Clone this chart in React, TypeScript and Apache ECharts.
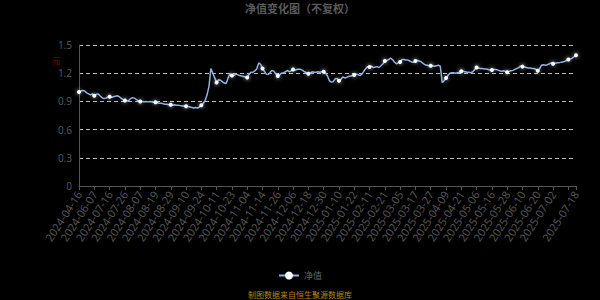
import React, { useEffect, useRef } from "react";
import * as echarts from "echarts";

const titleText = "净值变化图（不复权）";
const seriesName = "净值";
const unitText = "元";
const sourceText = "制图数据来自恒生聚源数据库";

// early sparse dates, then daily trading days per month
const earlyDates = [
  "2024-04-16", "2024-04-19", "2024-04-26", "2024-04-30", "2024-05-10", "2024-05-17",
  "2024-05-24", "2024-05-31", "2024-06-07", "2024-06-14", "2024-06-21", "2024-06-28",
  "2024-07-05", "2024-07-11", "2024-07-12", "2024-07-15", "2024-07-16",
];
const monthDays: [string, number[]][] = [
  ["2024-07", [17, 18, 19, 22, 23, 24, 25, 26, 29, 30, 31]],
  ["2024-08", [1, 2, 5, 6, 7, 8, 9, 12, 13, 14, 15, 16, 19, 20, 21, 22, 23, 26, 27, 28, 29, 30]],
  ["2024-09", [2, 3, 4, 5, 6, 9, 10, 11, 12, 13, 18, 19, 20, 23, 24, 25, 26, 27, 30]],
  ["2024-10", [8, 9, 10, 11, 14, 15, 16, 17, 18, 21, 22, 23, 24, 25, 28, 29, 30, 31]],
  ["2024-11", [1, 4, 5, 6, 7, 8, 11, 12, 13, 14, 15, 18, 19, 20, 21, 22, 25, 26, 27, 28, 29]],
  ["2024-12", [2, 3, 4, 5, 6, 9, 10, 11, 12, 13, 16, 17, 18, 19, 20, 23, 24, 25, 26, 27, 30, 31]],
  ["2025-01", [2, 3, 6, 7, 8, 9, 10, 13, 14, 15, 16, 17, 20, 21, 22, 23, 24, 27]],
  ["2025-02", [5, 6, 7, 10, 11, 12, 13, 14, 17, 18, 19, 20, 21, 24, 25, 26, 27, 28]],
  ["2025-03", [3, 4, 5, 6, 7, 10, 11, 12, 13, 14, 17, 18, 19, 20, 21, 24, 25, 26, 27, 28, 31]],
  ["2025-04", [1, 2, 3, 7, 8, 9, 10, 11, 14, 15, 16, 17, 18, 21, 22, 23, 24, 25, 28, 29, 30]],
  ["2025-05", [6, 7, 8, 9, 12, 13, 14, 15, 16, 19, 20, 21, 22, 23, 26, 27, 28, 29, 30]],
  ["2025-06", [3, 4, 5, 6, 9, 10, 11, 12, 13, 16, 17, 18, 19, 20, 23, 24, 25, 26, 27, 30]],
  ["2025-07", [1, 2, 3, 4, 7, 8, 9, 10, 11, 14, 15, 16, 17, 18]],
];
const categories: string[] = [
  ...earlyDates,
  ...monthDays.flatMap(([m, ds]) => ds.map((d) => `${m}-${String(d).padStart(2, "0")}`)),
];

const navValues = [
  1.00, 1.01, 1.015, 1.01, 0.99, 0.98, 0.97, 0.98, 0.96,
  0.975, 0.98, 0.96, 0.94, 0.93, 0.935, 0.945, 0.95,
  0.945, 0.95, 0.955, 0.96, 0.95, 0.935, 0.92, 0.91,
  0.905, 0.91, 0.93, 0.94, 0.935, 0.92, 0.905, 0.90,
  0.90, 0.895, 0.90, 0.895, 0.90, 0.895, 0.89, 0.89,
  0.885, 0.88, 0.88, 0.875, 0.87, 0.87, 0.865, 0.865,
  0.86, 0.865, 0.86, 0.86, 0.855, 0.85, 0.85, 0.848,
  0.845, 0.84, 0.835, 0.83, 0.835, 0.83, 0.84, 0.86,
  0.88, 0.91, 0.97, 1.06, 1.25, 1.20, 1.15, 1.10,
  1.13, 1.125, 1.11, 1.095, 1.09, 1.15, 1.195, 1.175,
  1.175, 1.19, 1.185, 1.175, 1.17, 1.165, 1.16, 1.155,
  1.19, 1.21, 1.21, 1.225, 1.245, 1.31, 1.295, 1.25,
  1.22, 1.19, 1.185, 1.21, 1.23, 1.22, 1.19, 1.17,
  1.185, 1.20, 1.205, 1.215, 1.23, 1.215, 1.225, 1.24,
  1.235, 1.24, 1.245, 1.24, 1.23, 1.215, 1.205, 1.195,
  1.20, 1.215, 1.21, 1.21, 1.215, 1.21, 1.215, 1.215,
  1.20, 1.17, 1.12, 1.105, 1.11, 1.14, 1.145, 1.12,
  1.135, 1.16, 1.15, 1.155, 1.165, 1.17, 1.175, 1.18,
  1.19, 1.185, 1.175, 1.19, 1.22, 1.25, 1.27, 1.265,
  1.275, 1.26, 1.265, 1.27, 1.26, 1.28, 1.30, 1.33,
  1.335, 1.345, 1.36, 1.345, 1.32, 1.30, 1.31, 1.32,
  1.345, 1.345, 1.34, 1.34, 1.33, 1.32, 1.315, 1.33,
  1.335, 1.33, 1.32, 1.305, 1.29, 1.285, 1.28, 1.28,
  1.28, 1.275, 1.28, 1.285, 1.275, 1.10, 1.12, 1.15,
  1.175, 1.20, 1.205, 1.205, 1.20, 1.205, 1.21, 1.22,
  1.22, 1.215, 1.21, 1.21, 1.205, 1.215, 1.24, 1.26,
  1.255, 1.25, 1.25, 1.245, 1.245, 1.24, 1.235, 1.233,
  1.24, 1.24, 1.235, 1.225, 1.22, 1.225, 1.22, 1.21,
  1.22, 1.225, 1.23, 1.24, 1.25, 1.26, 1.275, 1.27,
  1.265, 1.26, 1.255, 1.255, 1.25, 1.25, 1.24, 1.225,
  1.25, 1.285, 1.29, 1.285, 1.29, 1.30, 1.31, 1.30,
  1.305, 1.31, 1.31, 1.315, 1.32, 1.325, 1.335, 1.345,
  1.35, 1.36, 1.375, 1.39,
];

const LABEL_STEP = 8;

export default function App() {
  const ref = useRef<HTMLDivElement>(null);
  useEffect(() => {
    if (!ref.current) return;
    const chart = echarts.init(ref.current, null, { renderer: "svg" });
    const last = categories.length - 1;
    const lastRegular = Math.floor(last / LABEL_STEP) * LABEL_STEP;
    chart.setOption({
      animation: false,
      backgroundColor: "#000",
      title: {
        text: titleText,
        left: "center",
        top: 2,
        padding: 0,
        textStyle: { color: "#5a5a5a", fontSize: 11, fontWeight: "bold", fontFamily: "Noto Sans CJK SC" },
      },
      legend: {
        data: [seriesName],
        top: 271,
        left: "center",
        padding: 0,
        itemWidth: 20,
        itemHeight: 10,
        textStyle: { color: "#666", fontSize: 9, fontFamily: "Noto Sans CJK SC" },
      },
      graphic: [
        {
          type: "text",
          left: "center",
          top: 290,
          style: { text: sourceText, fill: "#b8860b", fontSize: 8, fontFamily: "Noto Sans CJK SC" },
        },
        {
          type: "text",
          x: 52,
          y: 56,
          style: { text: unitText, fill: "#8b0000", fontSize: 8, fontFamily: "Noto Sans CJK SC" },
        },
      ],
      grid: { left: 79, right: 24, top: 45, bottom: 114 },
      xAxis: {
        type: "category",
        data: categories,
        boundaryGap: false,
        axisLine: { lineStyle: { color: "#555" } },
        axisTick: { lineStyle: { color: "#555" }, length: 4 },
        axisLabel: {
          interval: (i: number) => i % LABEL_STEP === 0 || i === last,
          formatter: (v: string, i: number) => (i === lastRegular && i !== last ? "" : v),
          rotate: 57,
          color: "#555",
          fontSize: 11,
          fontFamily: "Noto Sans",
          margin: 6,
        },
      },
      yAxis: {
        type: "value",
        min: 0,
        max: 1.5,
        interval: 0.3,
        axisLine: { show: true, lineStyle: { color: "#555" } },
        axisTick: { show: false },
        axisLabel: { color: "#555", fontSize: 10, fontFamily: "Noto Sans", margin: 7 },
        splitLine: { lineStyle: { color: "#bbb", type: [4, 3], width: 1 } },
      },
      series: [
        {
          name: seriesName,
          type: "line",
          data: navValues,
          symbol: "circle",
          symbolSize: 4,
          lineStyle: { color: "#8eb2e2", width: 1.5 },
          itemStyle: { color: "#ffffff", shadowBlur: 4, shadowColor: "#cfe0ff" },
        },
      ],
    });
    return () => chart.dispose();
  }, []);
  return (
    <div
      ref={ref}
      style={{ width: 600, height: 300, position: "absolute", left: 0, top: 0 }}
    />
  );
}
